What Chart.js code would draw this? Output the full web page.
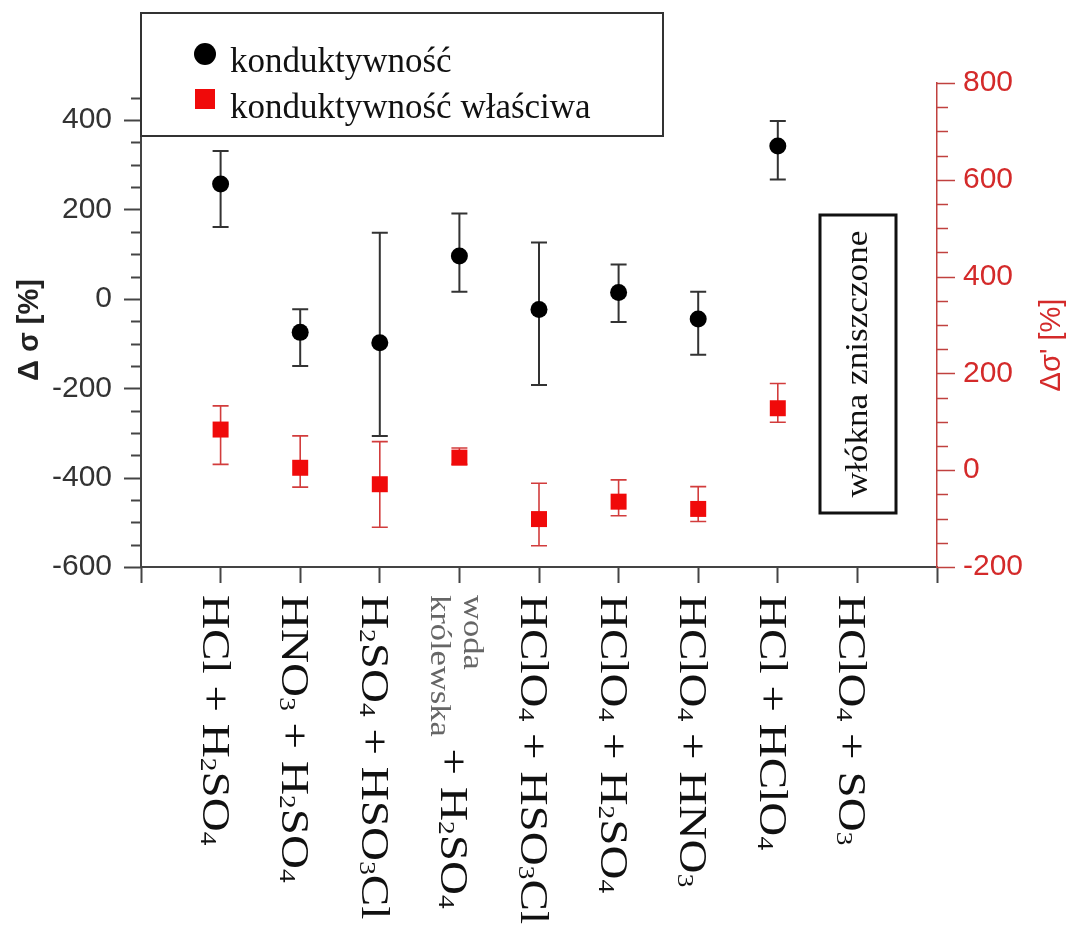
<!DOCTYPE html>
<html>
<head>
<meta charset="utf-8">
<script src="https://cdn.jsdelivr.net/npm/chart.js@4/dist/chart.umd.min.js"></script>
<style>
  html, body { margin: 0; padding: 0; background: #fff; }
  #wrap { width: 1072px; height: 926px; }
</style>
</head>
<body>
<div id="wrap"><canvas id="c" width="1072" height="926"></canvas></div>
<script>
// Acid mixtures (x categories)
const categories = [
  'HCl + H₂SO₄',
  'HNO₃ + H₂SO₄',
  'H₂SO₄ + HSO₃Cl',
  'woda królewska + H₂SO₄',
  'HClO₄ + HSO₃Cl',
  'HClO₄ + H₂SO₄',
  'HClO₄ + HNO₃',
  'HCl + HClO₄',
  'HClO₄ + SO₃'
];

// Δσ [%] – conductivity change (left axis) with error range
const condValues = [257, -75, -98, 96, -24, 14, -45, 342, null];
const condLow    = [161, -150, -307, 16, -193, -52, -125, 267, null];
const condHigh   = [331, -23, 148, 191, 126, 77, 16, 398, null];

// Δσ' [%] – specific conductivity change (right axis) with error range
const specValues = [84, 5, -29, 26, -101, -65, -80, 128, null];
const specLow    = [12, -35, -118, 12, -156, -94, -106, 99, null];
const specHigh   = [133, 71, 59, 46, -27, -20, -34, 179, null];

// Axis tick labels
const leftTicks  = [-600, -400, -200, 0, 200, 400];
const rightTicks = [-200, 0, 200, 400, 600, 800];

const seriesNames = ['konduktywność', 'konduktywność właściwa'];
const leftTitle = 'Δ σ [%]';
const rightTitle = "Δσ' [%]";
const noteText = 'włókna zniszczone';

const SERIF = '"Liberation Serif", "Times New Roman", serif';
const SANS = '"Liberation Sans", Arial, sans-serif';
const RED = '#f00a0a';
const RED_AXIS = '#c0413f';
const RED_TEXT = '#d42a2a';

const SUB = '₀₁₂₃₄₅₆₇₈₉';
function segments(text) {
  const out = [];
  for (const ch of text) {
    const k = SUB.indexOf(ch);
    const sub = k >= 0;
    const c = sub ? String(k) : ch;
    const last = out[out.length - 1];
    if (last && last.sub === sub) last.t += c; else out.push({ t: c, sub });
  }
  return out;
}
// chemical formula text with lowered small digits; returns drawn width
function drawRich(ctx, text, x, y, size, color) {
  let cx = x;
  ctx.fillStyle = color;
  for (const s of segments(text)) {
    const fs = s.sub ? size * 0.58 : size;
    ctx.font = fs + 'px ' + SERIF;
    ctx.fillText(s.t, cx, y + (s.sub ? size * 0.05 : 0));
    cx += ctx.measureText(s.t).width;
  }
  return cx - x;
}

function drawErrorBars(ctx, xs, ys, vals, lows, highs, color, width, cap) {
  ctx.save();
  ctx.strokeStyle = color;
  ctx.lineWidth = width;
  vals.forEach((v, i) => {
    if (v === null) return;
    const x = xs.getPixelForValue(i + 1);
    const yl = ys.getPixelForValue(lows[i]);
    const yh = ys.getPixelForValue(highs[i]);
    ctx.beginPath();
    ctx.moveTo(x, yl); ctx.lineTo(x, yh);
    ctx.moveTo(x - cap / 2, yl); ctx.lineTo(x + cap / 2, yl);
    ctx.moveTo(x - cap / 2, yh); ctx.lineTo(x + cap / 2, yh);
    ctx.stroke();
  });
  ctx.restore();
}

function drawAxisTicks(ctx, scale, side, color, major, minor, majorLen, minorLen, width) {
  ctx.save();
  ctx.strokeStyle = color;
  ctx.lineWidth = width;
  const x0 = side === 'left' ? scale.right : scale.left;
  const dir = side === 'left' ? -1 : 1;
  const start = Math.ceil(scale.min / minor) * minor;
  for (let v = start; v <= scale.max + 1e-9; v += minor) {
    const y = Math.round(scale.getPixelForValue(v)) + 0.5;
    const len = (v % major === 0) ? majorLen : minorLen;
    ctx.beginPath();
    ctx.moveTo(x0, y); ctx.lineTo(x0 + dir * len, y);
    ctx.stroke();
  }
  ctx.restore();
}

const decor = {
  id: 'decor',
  beforeDatasetsDraw(chart) {
    const { ctx, scales } = chart;
    drawErrorBars(ctx, scales.x, scales.y, condValues, condLow, condHigh, '#333', 2, 16);
    drawErrorBars(ctx, scales.x, scales.y1, specValues, specLow, specHigh, '#d23c3c', 1.6, 16);
  },
  afterDraw(chart) {
    const { ctx, scales } = chart;
    const xs = scales.x, yl = scales.y, yr = scales.y1;

    // minor/major tick marks on both value axes
    drawAxisTicks(ctx, yl, 'left', '#444', 200, 50, 17, 10, 2);
    drawAxisTicks(ctx, yr, 'right', RED_AXIS, 200, 50, 18, 11, 1.5);

    // axis titles (both read bottom to top)
    ctx.save();
    ctx.translate(30, 330);
    ctx.rotate(-Math.PI / 2);
    ctx.font = 'bold 29px ' + SANS;
    ctx.fillStyle = '#222';
    ctx.textAlign = 'center';
    ctx.textBaseline = 'middle';
    ctx.fillText(leftTitle, 0, 0);
    ctx.restore();

    ctx.save();
    ctx.translate(1052, 345);
    ctx.rotate(-Math.PI / 2);
    ctx.font = '29px ' + SANS;
    ctx.fillStyle = RED_TEXT;
    ctx.textAlign = 'center';
    ctx.textBaseline = 'middle';
    ctx.fillText(rightTitle, 0, 0);
    ctx.restore();

    // category labels, rotated to read downwards
    categories.forEach((lab, i) => {
      const px = xs.getPixelForValue(i + 1);
      ctx.save();
      ctx.translate(px - 18, 595);
      ctx.rotate(Math.PI / 2);
      ctx.scale(1.15, 1);
      ctx.textAlign = 'left';
      ctx.textBaseline = 'alphabetic';
      const parts = lab.split(' + ');
      if (parts[0].includes(' ')) {
        // multi-word name: stacked words in a smaller grey face
        const words = parts[0].split(' ');
        ctx.font = '30px ' + SERIF;
        ctx.fillStyle = '#666';
        let w = 0;
        words.forEach((wd, k) => {
          ctx.fillText(wd, 0, -23 + 33 * k);
          w = Math.max(w, ctx.measureText(wd).width);
        });
        drawRich(ctx, ' + ' + parts.slice(1).join(' + '), w, 0, 41, '#111');
      } else {
        drawRich(ctx, lab, 0, 0, 41, '#111');
      }
      ctx.restore();
    });

    // legend box
    ctx.save();
    ctx.fillStyle = '#fff';
    ctx.fillRect(141, 13, 522, 123);
    ctx.strokeStyle = '#333';
    ctx.lineWidth = 2;
    ctx.strokeRect(141, 13, 522, 123);
    ctx.fillStyle = '#000';
    ctx.beginPath();
    ctx.arc(205, 54, 11, 0, Math.PI * 2);
    ctx.fill();
    ctx.fillStyle = RED;
    ctx.fillRect(195, 89, 20, 20);
    ctx.fillStyle = '#111';
    ctx.font = '35px ' + SERIF;
    ctx.textAlign = 'left';
    ctx.textBaseline = 'alphabetic';
    ctx.fillText(seriesNames[0], 230, 72);
    ctx.fillText(seriesNames[1], 230, 118);
    ctx.restore();

    // note box for the last mixture
    ctx.save();
    ctx.strokeStyle = '#111';
    ctx.lineWidth = 3;
    ctx.strokeRect(820, 215, 76, 298);
    ctx.translate(858, 364);
    ctx.rotate(-Math.PI / 2);
    ctx.scale(1.1, 1);
    ctx.font = '32px ' + SERIF;
    ctx.fillStyle = '#111';
    ctx.textAlign = 'center';
    ctx.textBaseline = 'alphabetic';
    ctx.fillText(noteText, 0, 9);
    ctx.restore();
  }
};

const toPoints = vals => vals.map((v, i) => (v === null ? null : { x: i + 1, y: v })).filter(p => p);

new Chart(document.getElementById('c'), {
  type: 'scatter',
  data: {
    datasets: [
      {
        label: seriesNames[0],
        data: toPoints(condValues),
        yAxisID: 'y',
        pointStyle: 'circle',
        pointRadius: 8.5,
        pointBackgroundColor: '#000',
        pointBorderWidth: 0,
        showLine: false
      },
      {
        label: seriesNames[1],
        data: toPoints(specValues),
        yAxisID: 'y1',
        pointStyle: 'rect',
        pointRadius: 11.3,
        pointBackgroundColor: RED,
        pointBorderWidth: 0,
        showLine: false
      }
    ]
  },
  options: {
    responsive: false,
    animation: false,
    layout: { padding: { top: 83, left: 0, right: 0, bottom: 0 } },
    plugins: { legend: { display: false }, tooltip: { enabled: false } },
    scales: {
      x: {
        type: 'linear',
        min: 0,
        max: categories.length + 1,
        afterBuildTicks: s => { s.ticks = Array.from({ length: categories.length + 2 }, (_, i) => ({ value: i })); },
        afterFit: s => { s.height = 359; },
        grid: { drawOnChartArea: false, drawTicks: true, tickLength: 16, tickColor: '#444', tickWidth: 2 },
        border: { color: '#444', width: 2 },
        ticks: { display: false }
      },
      y: {
        position: 'left',
        min: -600,
        max: 483,
        afterBuildTicks: s => { s.ticks = leftTicks.map(v => ({ value: v })); },
        afterFit: s => { s.width = 141; },
        grid: { drawOnChartArea: false, drawTicks: false },
        border: { color: '#444', width: 2 },
        ticks: { padding: 29, color: '#333', font: { size: 30, family: SANS }, callback: v => String(v) }
      },
      y1: {
        position: 'right',
        min: -200,
        max: 800,
        afterBuildTicks: s => { s.ticks = rightTicks.map(v => ({ value: v })); },
        afterFit: s => { s.width = 135; },
        grid: { drawOnChartArea: false, drawTicks: false },
        border: { color: RED_AXIS, width: 1.5 },
        ticks: { padding: 26, color: RED_TEXT, font: { size: 30, family: SANS }, callback: v => String(v) }
      }
    }
  },
  plugins: [decor]
});
</script>
</body>
</html>
